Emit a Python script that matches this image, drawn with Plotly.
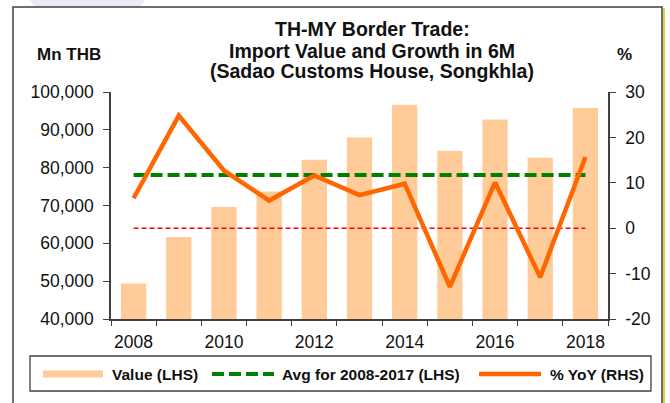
import plotly.graph_objects as go

# ---- data -------------------------------------------------------------
years = [2008, 2009, 2010, 2011, 2012, 2013, 2014, 2015, 2016, 2017, 2018]
import_value = [49400, 61700, 69600, 73700, 82100, 88000, 96600, 84400, 92700, 82600, 95800]  # Mn THB
yoy_growth = [6.6, 24.8, 12.7, 6.1, 11.6, 7.3, 9.8, -12.9, 10.1, -10.8, 15.7]  # %
avg_years = [y for y in years if y <= 2017]
avg_value = sum(v for y, v in zip(years, import_value) if y <= 2017) / len(avg_years)
x_tick_labels = [2008, 2010, 2012, 2014, 2016, 2018]
pct_ticks = [-20, -10, 0, 10, 20, 30]
pct_tick_text = ["-20", "-10", "0", "10", "20", "30"]

title_lines = [
    "TH-MY Border Trade:",
    "Import Value and Growth in 6M",
    "(Sadao Customs House, Songkhla)",
]
legend_labels = ["Value (LHS)", "Avg for 2008-2017 (LHS)", "% YoY (RHS)"]

# ---- styling ----------------------------------------------------------
FONT = "Liberation Sans, Arial, sans-serif"
BAR_COLOR = "#FFCC99"
AVG_COLOR = "#008000"
YOY_COLOR = "#FF6600"
ZERO_COLOR = "#FF0000"
AXIS_COLOR = "#404040"

W, H = 670, 403
L, R, T, B = 111, 62, 92, 84
PW, PH = W - L - R, H - T - B


def px_x(p):
    return (p - L) / PW


def px_y(p):
    return (T + PH - p) / PH


fig = go.Figure()

fig.add_trace(go.Bar(
    x=years, y=import_value, width=0.56,
    marker=dict(color=BAR_COLOR, line=dict(width=0)),
    name=legend_labels[0], yaxis="y",
))
fig.add_trace(go.Scatter(
    x=years, y=[avg_value] * len(years), mode="lines",
    line=dict(color=AVG_COLOR, width=4, dash="12px,5px"),
    name=legend_labels[1], yaxis="y",
))
fig.add_trace(go.Scatter(
    x=years, y=[0] * len(years), mode="lines",
    line=dict(color=ZERO_COLOR, width=1.5, dash="5px,3px"),
    yaxis="y2", showlegend=False,
))
fig.add_trace(go.Scatter(
    x=years, y=yoy_growth, mode="lines",
    line=dict(color=YOY_COLOR, width=4.5),
    name=legend_labels[2], yaxis="y2",
))

axis_common = dict(
    showline=True, linecolor=AXIS_COLOR, linewidth=1.5, showgrid=False,
    zeroline=False, tickfont=dict(family=FONT, size=17.5, color="#111111"),
)

fig.update_layout(
    width=W, height=H, autosize=False,
    margin=dict(l=L, r=R, t=T, b=B, pad=0),
    paper_bgcolor="white", plot_bgcolor="white",
    showlegend=False,
    font=dict(family=FONT, color="#111111"),
    xaxis=dict(
        **axis_common,
        range=[2007.5, 2018.5],
        tickmode="array", tickvals=x_tick_labels,
        ticktext=[str(v) for v in x_tick_labels],
        ticks="", ticklabelstandoff=6,
        minor=dict(tickmode="linear", tick0=2007.5, dtick=1,
                   ticks="outside", ticklen=5, tickcolor=AXIS_COLOR, tickwidth=1.3),
    ),
    yaxis=dict(
        **axis_common,
        range=[40000, 100000], dtick=10000, tickformat=",",
        ticks="outside", ticklen=6, tickcolor=AXIS_COLOR, tickwidth=1.3,
        ticklabelstandoff=6,
    ),
    yaxis2=dict(
        **axis_common,
        overlaying="y", side="right",
        range=[-20, 30],
        tickmode="array", tickvals=pct_ticks, ticktext=pct_tick_text,
        ticks="outside", ticklen=6, tickcolor=AXIS_COLOR, tickwidth=1.3,
        ticklabelstandoff=6,
    ),
)

shapes = []
annotations = []

# faint header tint above the frame
shapes.append(dict(
    type="path", xref="paper", yref="paper", layer="below",
    path=f"M {px_x(30)},{px_y(0)} L {px_x(145)},{px_y(0)} L {px_x(140)},{px_y(7)} L {px_x(35)},{px_y(7)} Z",
    fillcolor="#e9ebf6", line=dict(width=0),
))
# outer frame
shapes.append(dict(
    type="rect", xref="paper", yref="paper",
    x0=px_x(13), x1=px_x(662), y0=px_y(415), y1=px_y(7),
    line=dict(color=AXIS_COLOR, width=1.5), fillcolor="rgba(0,0,0,0)",
))
shapes.append(dict(
    type="line", xref="paper", yref="paper",
    x0=px_x(664), x1=px_x(664), y0=px_y(415), y1=px_y(8),
    line=dict(color="#cfc400", width=1.5),
))

# title
for text, cy in zip(title_lines, [29.5, 50.5, 71]):
    annotations.append(dict(
        text=f"<b>{text}</b>", xref="paper", yref="paper",
        x=px_x(372), y=px_y(cy), xanchor="center", yanchor="middle",
        showarrow=False, font=dict(family=FONT, size=19.5, color="#111111"),
    ))
# axis unit labels
annotations.append(dict(
    text="<b>Mn THB</b>", xref="paper", yref="paper",
    x=px_x(69), y=px_y(54), xanchor="center", yanchor="middle",
    showarrow=False, font=dict(family=FONT, size=17, color="#111111"),
))
annotations.append(dict(
    text="<b>%</b>", xref="paper", yref="paper",
    x=px_x(624), y=px_y(54), xanchor="center", yanchor="middle",
    showarrow=False, font=dict(family=FONT, size=17, color="#111111"),
))

# legend box
LEG_Y = 374
shapes.append(dict(
    type="rect", xref="paper", yref="paper",
    x0=px_x(30), x1=px_x(651), y0=px_y(391), y1=px_y(356),
    line=dict(color=AXIS_COLOR, width=1.3), fillcolor="white",
))
swatches = [
    (43, 103, dict(color=BAR_COLOR, width=7)),
    (212, 274, dict(color=AVG_COLOR, width=4, dash="12px,5px")),
    (479, 541, dict(color=YOY_COLOR, width=4.5)),
]
text_x = [110, 280, 548]
for (x0, x1, ln), tx, label in zip(swatches, text_x, legend_labels):
    shapes.append(dict(
        type="line", xref="paper", yref="paper",
        x0=px_x(x0), x1=px_x(x1), y0=px_y(LEG_Y), y1=px_y(LEG_Y), line=ln,
    ))
    annotations.append(dict(
        text=f"<b>{label}</b>", xref="paper", yref="paper",
        x=px_x(tx), y=px_y(LEG_Y), xanchor="left", yanchor="middle",
        showarrow=False, font=dict(family=FONT, size=15.5, color="#111111"),
    ))

fig.update_layout(shapes=shapes, annotations=annotations)
fig.write_html("out.html")
